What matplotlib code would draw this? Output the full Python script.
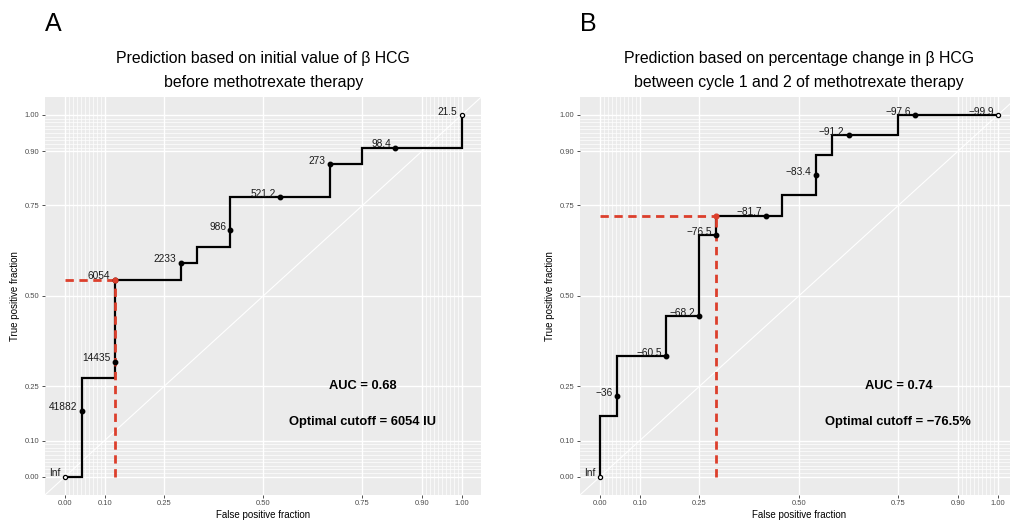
import numpy as np
import matplotlib
matplotlib.use('Agg')
import matplotlib.pyplot as plt

plt.rcParams['font.family'] = ['Liberation Sans', 'DejaVu Sans']

# ROC step corners (false positive fraction, true positive fraction)
a_fpf_steps = [0, 0.042, 0.125, 0.292, 0.333, 0.417, 0.667, 0.75, 1.0]
a_tpf_steps = [0, 0.273, 0.545, 0.591, 0.636, 0.773, 0.864, 0.909, 1.0]

b_fpf_steps = [0, 0, 0.042, 0.167, 0.25, 0.292, 0.458, 0.542, 0.583, 0.75, 1.0]
b_tpf_steps = [0, 0.167, 0.333, 0.444, 0.667, 0.722, 0.778, 0.889, 0.944, 1.0, 1.0]

# labelled cutoffs
a_cut_labels = ['Inf', '41882', '14435', '6054', '2233', '986', '521.2', '273', '98.4', '21.5']
a_cut_fpf = [0, 0.042, 0.125, 0.125, 0.292, 0.417, 0.542, 0.667, 0.833, 1.0]
a_cut_tpf = [0, 0.182, 0.318, 0.545, 0.591, 0.682, 0.773, 0.864, 0.909, 1.0]

b_cut_labels = ['Inf', '\u221236', '\u221260.5', '\u221268.2', '\u221276.5', '\u221281.7',
                '\u221283.4', '\u221291.2', '\u221297.6', '\u221299.9']
b_cut_fpf = [0, 0.042, 0.167, 0.25, 0.292, 0.417, 0.542, 0.625, 0.792, 1.0]
b_cut_tpf = [0, 0.222, 0.333, 0.444, 0.667, 0.722, 0.833, 0.944, 1.0, 1.0]

a_opt = (0.125, 0.545)
b_opt = (0.292, 0.722)

a_auc = 0.68
b_auc = 0.74
a_cutoff_text = 'Optimal cutoff = 6054 IU'
b_cutoff_text = 'Optimal cutoff = \u221276.5%'

a_title = ['Prediction based on initial value of \u03b2 HCG', 'before methotrexate therapy']
b_title = ['Prediction based on percentage change in \u03b2 HCG',
           'between cycle 1 and 2 of methotrexate therapy']

major = [0, 0.1, 0.25, 0.5, 0.75, 0.9, 1.0]
major_labels = ['0.00', '0.10', '0.25', '0.50', '0.75', '0.90', '1.00']
minor = [v for v in np.round(np.concatenate([np.arange(0, 0.1, 0.01), np.arange(0.9, 1.0, 0.01)]), 2)
         if v not in major]

RED = '#DC3F2C'

fig = plt.figure(figsize=(10.10, 5.21), dpi=100)


def draw_panel(rect, fpf, tpf, cut_fpf, cut_tpf, cut_labels, opt, auc, cutoff_text, title, letter):
    ax = fig.add_axes(rect)
    ax.set_facecolor('#EBEBEB')
    for s in ax.spines.values():
        s.set_visible(False)
    ax.set_xlim(-0.05, 1.05)
    ax.set_ylim(-0.05, 1.05)

    for v in minor:
        ax.axhline(v, color='white', lw=0.5, zorder=0)
        ax.axvline(v, color='white', lw=0.5, zorder=0)
    for v in major:
        ax.axhline(v, color='white', lw=1.0, zorder=0)
        ax.axvline(v, color='white', lw=1.0, zorder=0)
    ax.plot([-0.05, 1.05], [-0.05, 1.05], color='white', lw=0.8, zorder=1)

    ax.set_xticks(major)
    ax.set_xticklabels(major_labels)
    ax.set_yticks(major)
    ax.set_yticklabels(major_labels)
    ax.tick_params(labelsize=5.5, colors='#333333', labelcolor='#4D4D4D', length=2.5, width=0.6, pad=1.5)

    ax.plot(fpf, tpf, drawstyle='steps-post', color='black', lw=1.6, zorder=3,
            solid_joinstyle='miter')

    # optimal cutoff guides
    ax.plot([0, opt[0]], [opt[1], opt[1]], color=RED, lw=2.0, ls=(0, (3.0, 2.0)), zorder=4)
    ax.plot([opt[0], opt[0]], [0, opt[1]], color=RED, lw=2.0, ls=(0, (3.0, 2.0)), zorder=4)

    ax.plot(cut_fpf[1:-1], cut_tpf[1:-1], 'o', color='black', ms=3.2, zorder=5)
    ax.plot([cut_fpf[0], cut_fpf[-1]], [cut_tpf[0], cut_tpf[-1]], 'o', mfc='white', mec='black',
            ms=3, mew=0.9, zorder=5)
    ax.plot([opt[0]], [opt[1]], 'o', color=RED, ms=3.4, zorder=6)

    for x, y, lab in zip(cut_fpf, cut_tpf, cut_labels):
        ax.annotate(lab, (x, y), xytext=(-3, 2.5), textcoords='offset points',
                    ha='right', va='center', fontsize=7.3, color='#1A1A1A', zorder=7)

    ax.text(0.75, 0.25, 'AUC = %.2f' % auc, ha='center', va='center', fontsize=9.3,
            fontweight='bold', zorder=7)
    ax.text(0.75, 0.15, cutoff_text, ha='center', va='center', fontsize=9.3,
            fontweight='bold', zorder=7)

    ax.set_xlabel('False positive fraction', fontsize=7, va='center')
    ax.set_ylabel('True positive fraction', fontsize=7, va='center')
    ax.xaxis.set_label_coords(0.5, -0.051)
    ax.yaxis.set_label_coords(-0.069, 0.5)

    cx = rect[0] + rect[2] / 2
    fig.text(cx, 1 - 58 / 521, title[0], ha='center', va='center', fontsize=11.4)
    fig.text(cx, 1 - 82 / 521, title[1], ha='center', va='center', fontsize=11.4)
    fig.text(rect[0] - 0.0005, 1 - 24 / 521, letter, ha='left', va='center', fontsize=18)
    return ax


draw_panel([0.0447, 0.0503, 0.4320, 0.7637], a_fpf_steps, a_tpf_steps, a_cut_fpf, a_cut_tpf,
           a_cut_labels, a_opt, a_auc, a_cutoff_text, a_title, 'A')
draw_panel([0.5744, 0.0503, 0.4332, 0.7637], b_fpf_steps, b_tpf_steps, b_cut_fpf, b_cut_tpf,
           b_cut_labels, b_opt, b_auc, b_cutoff_text, b_title, 'B')

fig.savefig('out.png', dpi=100)
